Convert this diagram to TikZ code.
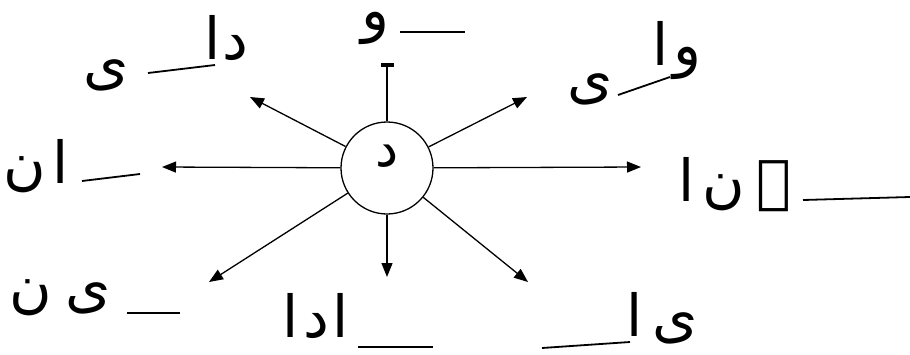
\documentclass[tikz,border=0pt]{standalone}
\usepackage{fontspec}
\newfontfamily\urdufont[Script=Arabic]{DejaVu Sans}
\TeXXeTstate=1
\usetikzlibrary{arrows.meta}

\begin{document}
\begin{tikzpicture}[x=1pt, y=-1pt,
  harf/.style={inner sep=0pt, font=\urdufont\fontsize{58}{64}\selectfont},
  arr/.style={-{Triangle[length=14pt, width=11pt]}, line width=1.3pt},
  blank/.style={line width=1.8pt}
]
  \useasboundingbox (0,0) rectangle (910,354);

  % centre letter
  \node[circle, draw, line width=1.3pt, minimum size=92pt] (ctr) at (387,168) {};
  \node[harf, font=\urdufont\fontsize{52}{60}\selectfont] (dal) at (387,156) {\beginR د\endR};

  % arrow ends
  \coordinate (tU) at (387,63);
  \coordinate (tUL) at (250,97);
  \coordinate (tUR) at (527,97);
  \coordinate (tL) at (162,167);
  \coordinate (tR) at (641,167);
  \coordinate (tLL) at (209,282);
  \coordinate (tD) at (387,277);
  \coordinate (tLR) at (528,282);

  \draw[-{Rectangle[length=4pt, width=13pt]}, line width=1.3pt] (ctr) -- (tU);
  \foreach \t in {tUL,tUR,tL,tR,tLL,tD,tLR}
    \draw[arr] (ctr) -- (\t);

  % words
  \node[harf] (wU) at (375,28) {\beginR و\endR};
  \draw[blank] (400,32) -- (465,32);

  \node[harf] (wUL1) at (226,38) {\beginR د\hspace{2pt}ا\endR};
  \draw[blank] (148,73) -- (215,65);
  \node[harf] (wUL2) at (106,75) {\beginR ی\endR};

  \node[harf] (wUR1) at (677,51) {\beginR و\hspace{4pt}ا\endR};
  \draw[blank] (618,95) -- (670,77);
  \node[harf] (wUR2) at (590,89) {\beginR ی\endR};

  \node[harf] (wL) at (36,166) {\beginR ا\hspace{6pt}ن\endR};
  \draw[blank] (82,181) -- (140,174);

  \node[harf] (wR) at (735,185) {\beginR ے\hspace{12pt}ن\hspace{8pt}ا\endR};
  \draw[blank] (803,200) -- (910,197);

  \node[harf] (wLL) at (60,298) {\beginR ی\hspace{14pt}ن\endR};
  \draw[blank] (127,313) -- (180,313);

  \node[harf] (wD) at (316,316) {\beginR ا\hspace{4pt}د\hspace{4pt}ا\endR};
  \draw[blank] (358,347) -- (433,347);

  \node[harf] (wLR) at (662,318) {\beginR ی\hspace{10pt}ا\endR};
  \draw[blank] (542,348) -- (630,342);
\end{tikzpicture}
\end{document}
